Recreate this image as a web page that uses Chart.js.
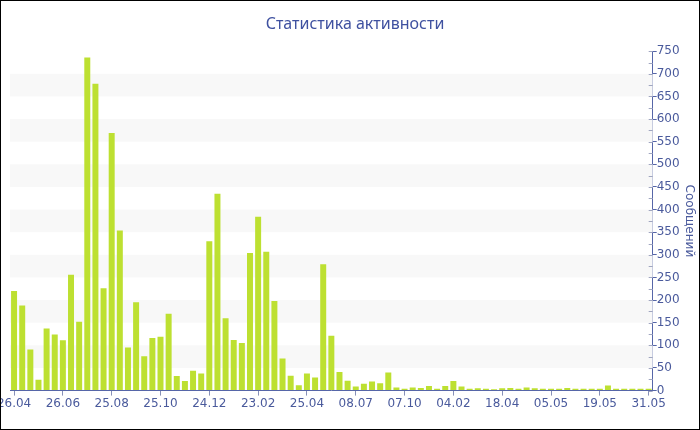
<!DOCTYPE html>
<html>
<head>
<meta charset="utf-8">
<title>Статистика активности</title>
<script src="https://cdn.jsdelivr.net/npm/chart.js@4.4.1/dist/chart.umd.min.js"></script>
<style>
    html, body { margin: 0; padding: 0; background: #fff; }
    #wrap { width: 700px; height: 430px; }
</style>
</head>
<body>
<div id="wrap"><canvas id="barChart" width="700" height="430"></canvas></div>
<script>
var tickLabels = ["26.04", "26.06", "25.08", "25.10", "24.12", "23.02", "25.04",
    "08.07", "07.10", "04.02", "18.04", "05.05", "19.05", "31.05"];
var tickEvery = 6;

var messages = [
    220, 188, 91, 24, 137, 124, 111, 256, 152, 736,
    678, 226, 569, 354, 95, 195, 76, 116, 119, 170,
    32, 21, 44, 38, 330, 435, 160, 112, 105, 304,
    384, 307, 198, 71, 33, 12, 38, 29, 279, 121,
    41, 22, 9, 15, 20, 16, 40, 7, 4, 7,
    6, 10, 4, 10, 21, 9, 4, 5, 4, 3,
    5, 6, 4, 7, 5, 4, 4, 4, 6, 4,
    4, 4, 4, 11, 4, 4, 4, 4, 4
];

var labels = [];
for (var i = 0; i < messages.length; i++) {
    labels.push(i % tickEvery === 0 ? tickLabels[i / tickEvery] : "");
}

var blue = "#4a5a9c";
var axisBlue = "#5666a8";

// alternate bands between y ticks + minor ticks + outer border
var decorPlugin = {
    id: "decor",
    beforeDatasetsDraw: function (chart) {
        var ctx = chart.ctx;
        var area = chart.chartArea;
        var y = chart.scales.y;
        ctx.save();
        ctx.fillStyle = "#f8f8f8";
        for (var i = 1; i < y.ticks.length - 1; i += 2) {
            var top = y.getPixelForValue(y.ticks[i + 1].value);
            var bottom = y.getPixelForValue(y.ticks[i].value);
            ctx.fillRect(area.left, top, area.right - area.left, bottom - top);
        }
        ctx.restore();
    },
    afterDraw: function (chart) {
        var ctx = chart.ctx;
        var y = chart.scales.y;
        ctx.save();
        ctx.strokeStyle = "#a0a6c0";
        ctx.lineWidth = 1;
        ctx.beginPath();
        for (var v = y.min; v <= y.max; v += 25) {
            var py = Math.round(y.getPixelForValue(v)) + 0.5;
            ctx.moveTo(y.left - 4, py);
            ctx.lineTo(y.left, py);
        }
        ctx.stroke();
        ctx.strokeStyle = "#000";
        ctx.strokeRect(0.5, 0.5, chart.width - 1, chart.height - 1);
        ctx.restore();
    }
};

var ctx = document.getElementById("barChart");
var mainChart = new Chart(ctx, {
    type: "bar",
    data: {
        labels: labels,
        datasets: [
            {
                label: "Сообщений",
                backgroundColor: "#bde031",
                borderWidth: 0,
                categoryPercentage: 0.8,
                barPercentage: 0.92,
                data: messages
            }
        ]
    },
    options: {
        responsive: false,
        animation: false,
        events: [],
        layout: { padding: { left: 10, right: 0, top: 0, bottom: 18 } },
        plugins: {
            legend: { display: false },
            tooltip: { enabled: false },
            title: {
                display: true,
                text: "Статистика активности",
                color: "#3f51a0",
                font: { family: "'Noto Sans', sans-serif", size: 16, weight: "normal" },
                padding: { top: 15, bottom: 17 }
            }
        },
        scales: {
            x: {
                offset: true,
                grid: {
                    display: true,
                    drawOnChartArea: false,
                    drawTicks: true,
                    tickLength: 5,
                    offset: false,
                    color: "#8790b8"
                },
                border: { color: axisBlue, width: 1 },
                ticks: {
                    autoSkip: false,
                    maxRotation: 0,
                    padding: 1,
                    color: blue,
                    font: { family: "'DejaVu Sans', sans-serif", size: 12 }
                },
                afterBuildTicks: function (scale) {
                    scale.ticks = scale.ticks.filter(function (t, i) { return i % tickEvery === 0; });
                },
                afterFit: function (scale) {
                    scale.paddingLeft = 0;
                }
            },
            y: {
                position: "right",
                min: 0,
                max: 750,
                grid: {
                    display: true,
                    drawOnChartArea: false,
                    tickLength: 4,
                    color: axisBlue
                },
                border: { color: axisBlue, width: 1 },
                ticks: {
                    stepSize: 50,
                    padding: 0,
                    color: blue,
                    font: { family: "'DejaVu Sans', sans-serif", size: 12 }
                },
                title: {
                    display: true,
                    text: "Сообщений",
                    color: blue,
                    font: { family: "'DejaVu Sans', sans-serif", size: 12 },
                    padding: { top: 4, bottom: 2 }
                }
            }
        }
    },
    plugins: [decorPlugin]
});
</script>
</body>
</html>
